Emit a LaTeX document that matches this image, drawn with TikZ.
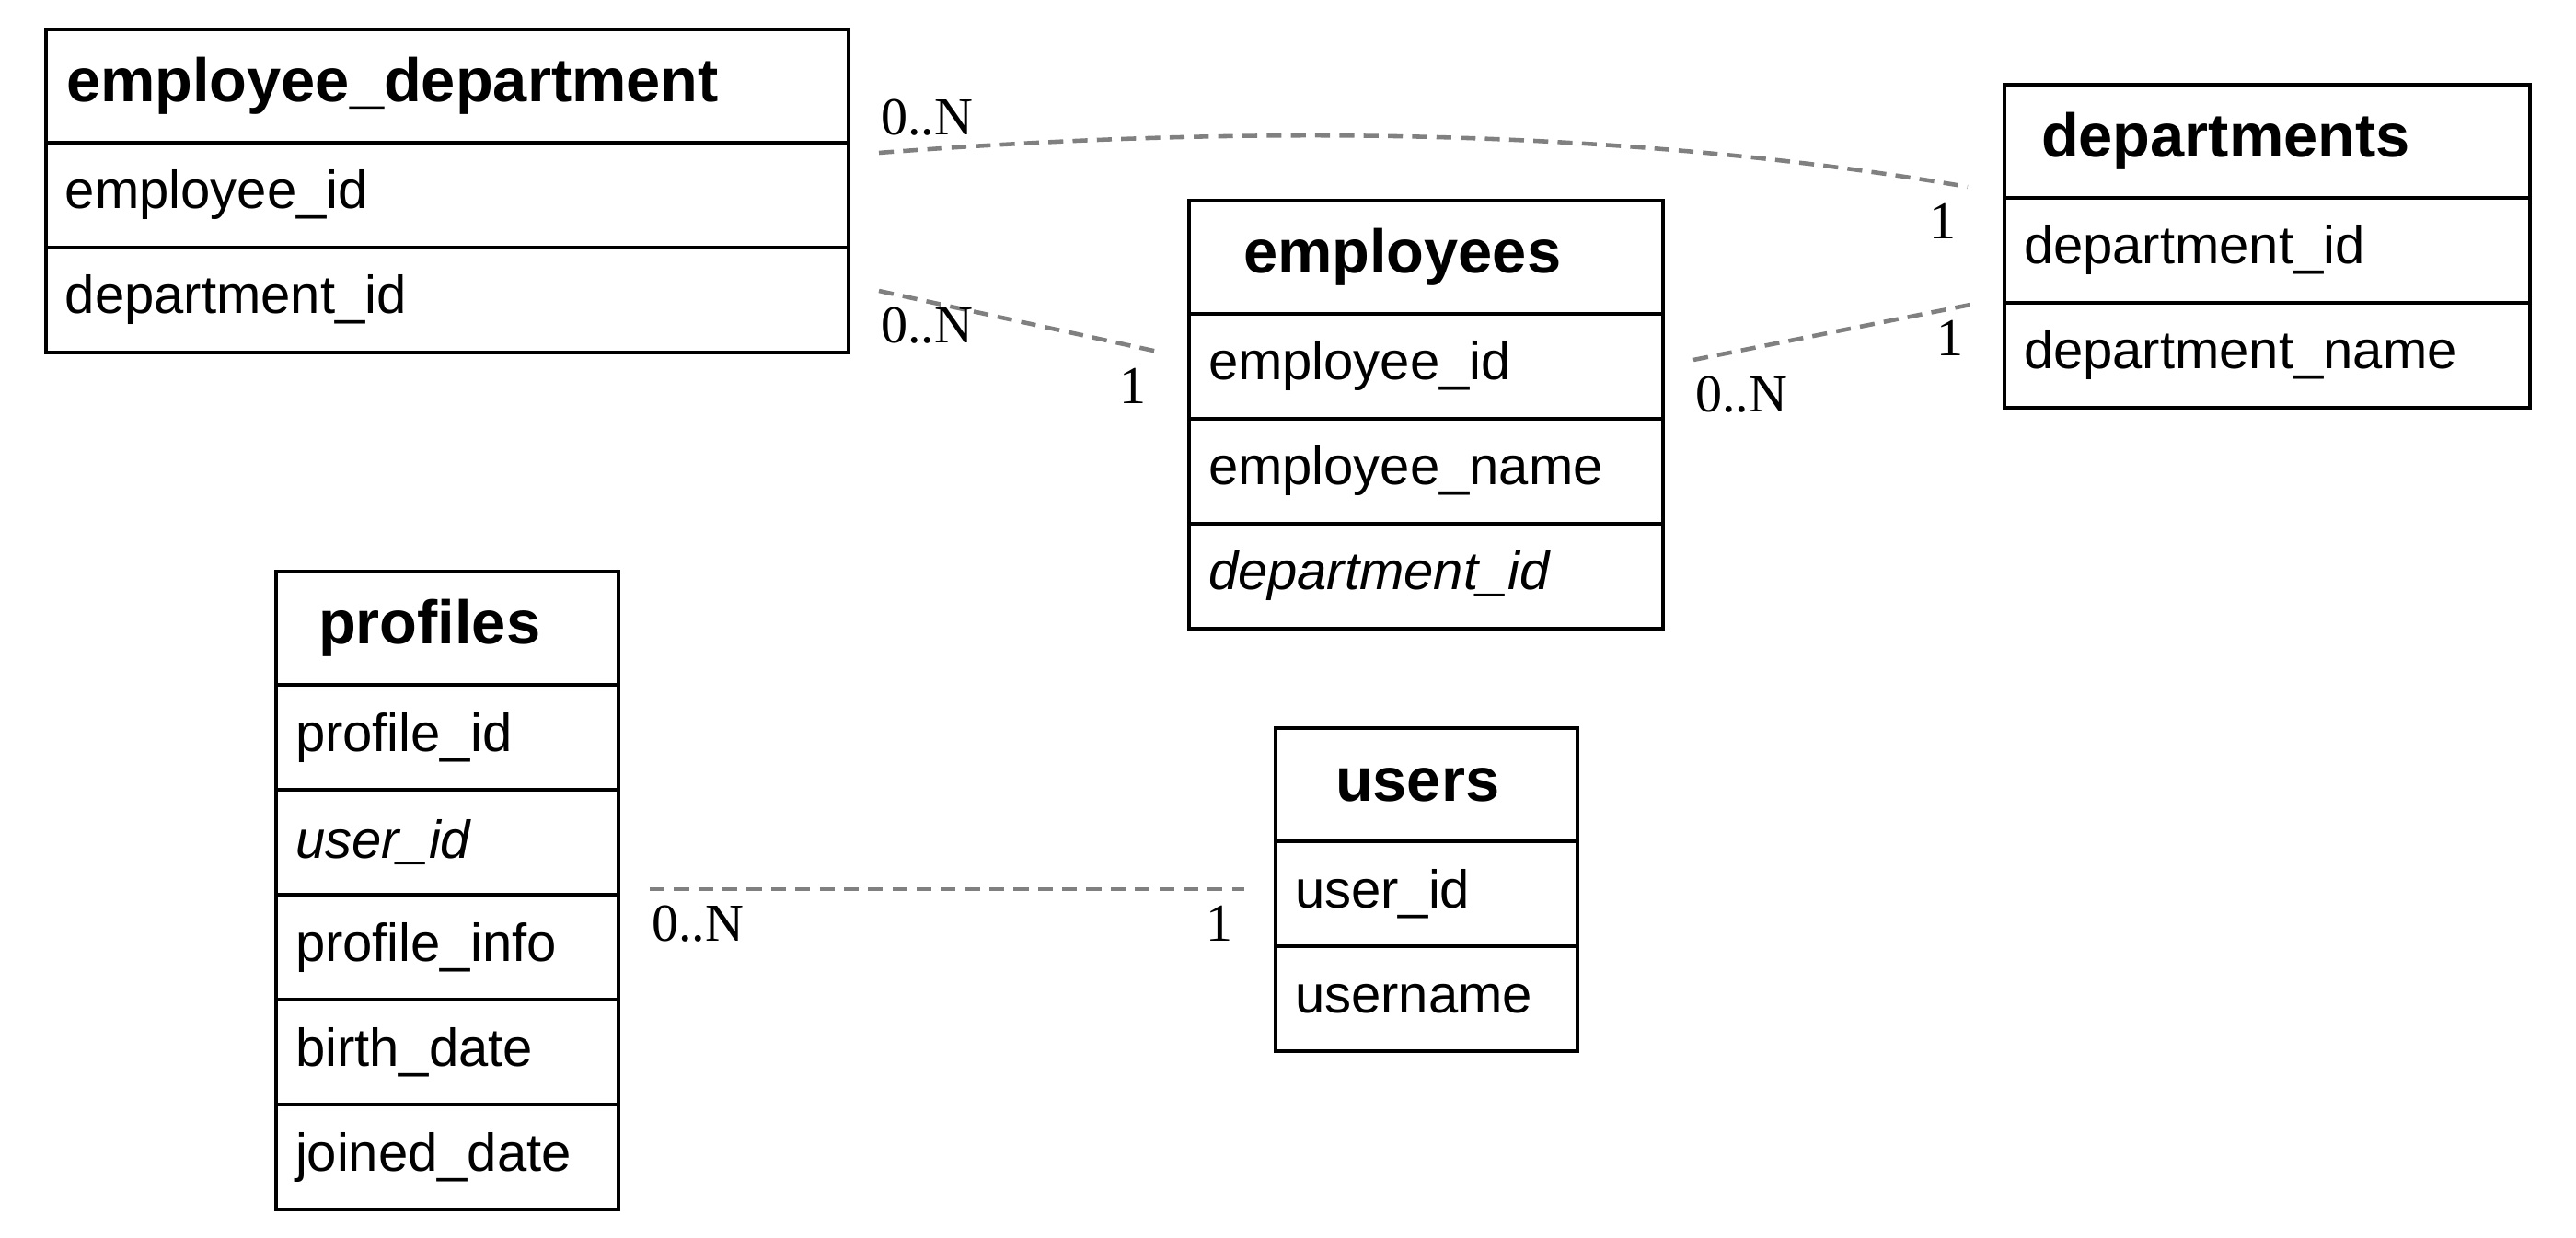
\documentclass[tikz,border=0pt]{standalone}
\usepackage{fontspec}
\setmainfont{Liberation Sans}
\newfontfamily\cardfont{Liberation Serif}
\usetikzlibrary{positioning}

\begin{document}
\begin{tikzpicture}[
    tbl/.style={draw, line width=1.2pt, outer sep=0pt, inner ysep=0pt, align=left},
    head/.style={tbl, anchor=north west, font=\bfseries\fontsize{19}{23}\selectfont, minimum height=1.23cm},
    field/.style={tbl, font=\fontsize{16.5}{20}\selectfont, minimum height=1.14cm, inner xsep=0.21cm},
    rel/.style={draw=gray, line width=1.3pt, dash pattern=on 4.6pt off 2.9pt},
    many/.style={font=\cardfont\fontsize{16.5}{20}\selectfont, anchor=north west, inner xsep=0pt, inner ysep=0.16cm},
    one/.style={many, anchor=north east, inner xsep=0.1cm}]
    \useasboundingbox (0,0) rectangle (27.99,-13.45);

    % employee_department
    \node[head, inner xsep=0.22cm, text width=8.28cm] (ed) at (0.50,-0.32) {employee\_department};
    \node[field, text width=8.30cm, below=0pt of ed] (ed-1) {employee\_id};
    \node[field, text width=8.30cm, below=0pt of ed-1] (ed-2) {department\_id};

    % employees
    \node[head, inner xsep=0.59cm, text width=3.97cm] (emp) at (12.92,-2.18) {employees};
    \node[field, text width=4.73cm, below=0pt of emp] (emp-1) {employee\_id};
    \node[field, text width=4.73cm, below=0pt of emp-1] (emp-2) {employee\_name};
    \node[field, text width=4.73cm, below=0pt of emp-2] (emp-3) {\itshape department\_id};

    % departments
    \node[head, inner xsep=0.40cm, text width=4.91cm] (dep) at (21.78,-0.92) {departments};
    \node[field, text width=5.29cm, below=0pt of dep] (dep-1) {department\_id};
    \node[field, text width=5.29cm, below=0pt of dep-1] (dep-2) {department\_name};

    % profiles
    \node[head, inner xsep=0.46cm, text width=2.80cm] (prof) at (3.00,-6.21) {profiles};
    \node[field, text width=3.30cm, below=0pt of prof] (prof-1) {profile\_id};
    \node[field, text width=3.30cm, below=0pt of prof-1] (prof-2) {\itshape user\_id};
    \node[field, text width=3.30cm, below=0pt of prof-2] (prof-3) {profile\_info};
    \node[field, text width=3.30cm, below=0pt of prof-3] (prof-4) {birth\_date};
    \node[field, text width=3.30cm, below=0pt of prof-4] (prof-5) {joined\_date};

    % users
    \node[head, inner xsep=0.65cm, text width=1.98cm] (usr) at (13.86,-7.91) {users};
    \node[field, text width=2.86cm, below=0pt of usr] (usr-1) {user\_id};
    \node[field, text width=2.86cm, below=0pt of usr-1] (usr-2) {username};

    % relation ends
    \coordinate (ed-dep) at (9.55,-1.66);
    \coordinate (dep-ed) at (21.38,-2.03);
    \coordinate (ed-emp) at (9.55,-3.16);
    \coordinate (emp-ed) at (12.58,-3.82);
    \coordinate (emp-dep) at (18.40,-3.91);
    \coordinate (dep-emp) at (21.46,-3.30);
    \coordinate (prof-usr) at (7.06,-9.66);
    \coordinate (usr-prof) at (13.52,-9.66);

    \draw[rel] (ed-dep) .. controls (13.98,-1.32) and (17.92,-1.44) .. (dep-ed)
        node[many, anchor=south west, at start] {0..N} node[one, at end] {1};
    \draw[rel] (ed-emp) -- (emp-ed) node[many, at start] {0..N} node[one, at end] {1};
    \draw[rel] (emp-dep) -- (dep-emp) node[many, at start] {0..N} node[one, at end] {1};
    \draw[rel] (prof-usr) -- (usr-prof) node[many, at start] {0..N} node[one, at end] {1};
\end{tikzpicture}
\end{document}
